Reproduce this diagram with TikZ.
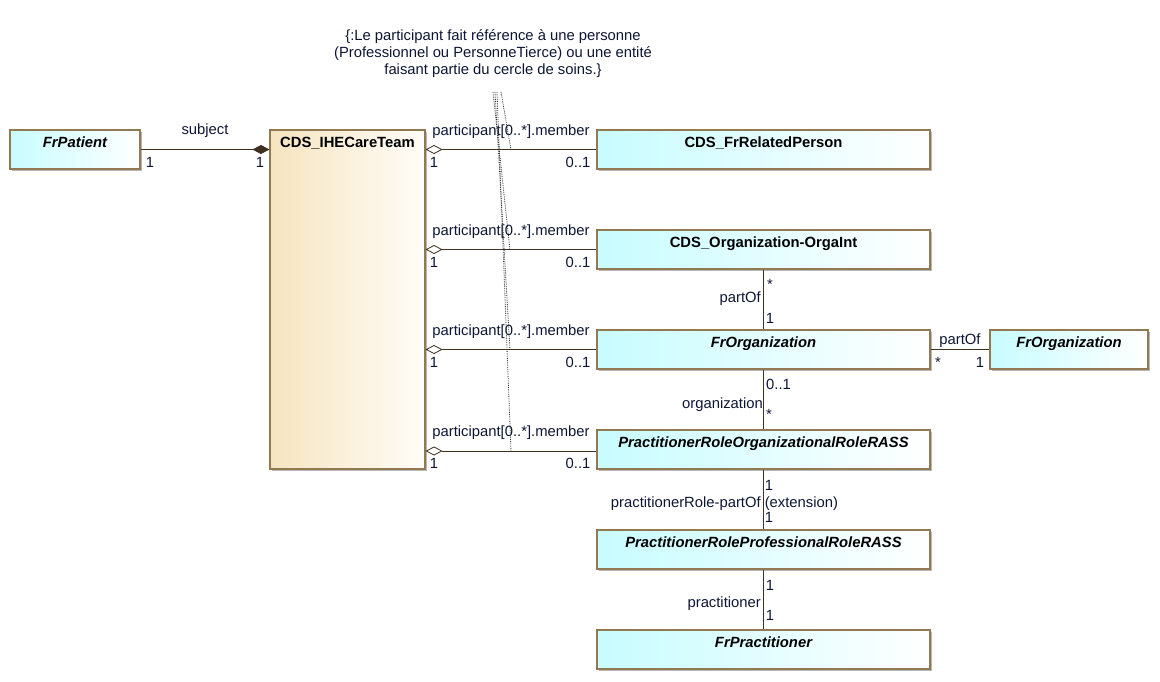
\documentclass[tikz,border=0pt]{standalone}
\usepackage{fontspec}
\setmainfont{Liberation Sans}
\usetikzlibrary{arrows.meta,shadows,calc}
\definecolor{txt}{RGB}{12,22,52}
\definecolor{ln}{RGB}{64,48,32}
\definecolor{bd}{RGB}{145,122,82}
\definecolor{cy}{RGB}{200,252,255}
\definecolor{wh}{RGB}{255,255,255}
\definecolor{tanA}{RGB}{246,228,192}
\definecolor{tanB}{RGB}{255,253,248}
\newcommand{\fsz}{\fontsize{14.8}{17}\selectfont}
\begin{document}
\begin{tikzpicture}[x=1pt,y=-1pt,
  font=\fsz, text=txt,
  boxbase/.style={draw=bd, line width=1.1pt, inner sep=0pt, minimum height=39pt,
    drop shadow={shadow xshift=2pt,shadow yshift=-2pt,fill=black!28,opacity=1}},
  cls/.style={boxbase, left color=cy, right color=wh, minimum width=#1},
  team/.style={boxbase, left color=tanA, right color=tanB, minimum width=155pt, minimum height=339pt},
  ttl/.style={anchor=north, yshift=-4.5pt, text height=10pt, text depth=3pt, text=black},
  bi/.style={ttl, font=\fsz\bfseries\itshape},
  bu/.style={ttl, font=\fsz\bfseries},
  conn/.style={draw=ln, line width=0.9pt},
  lbl/.style={inner sep=0pt, text height=10pt, text depth=3pt, yshift=-1.5pt},
  odia/.style={conn, {Diamond[open,length=17pt,width=9pt,line width=0.8pt]}-},
  fdia/.style={conn, -{Diamond[length=17pt,width=9pt]}},
  note/.style={densely dotted, line width=0.8pt, draw=black!80}]
\useasboundingbox (0,0) rectangle (1160,681);

% classes
\node[cls=130pt, label={[bi]north:FrPatient}] (pat) at (75,149.5) {};
\node[team, label={[bu]north:CDS\_IHECareTeam}] (ct) at (347.5,299.5) {};
\node[cls=333pt, label={[bu]north:CDS\_FrRelatedPerson}] (rp) at (763.5,149.5) {};
\node[cls=333pt, label={[bu]north:CDS\_Organization-OrgaInt}] (co) at (763.5,249.5) {};
\node[cls=333pt, label={[bi]north:FrOrganization}] (fo) at (763.5,349.5) {};
\node[cls=158pt, label={[bi]north:FrOrganization}] (fo2) at (1069,349.5) {};
\node[cls=333pt, label={[bi]north:PractitionerRoleOrganizationalRoleRASS}] (pro) at (763.5,449.5) {};
\node[cls=333pt, label={[bi]north:PractitionerRoleProfessionalRoleRASS}] (prp) at (763.5,549.5) {};
\node[cls=333pt, label={[bi]north:FrPractitioner}] (fp) at (763.5,649.5) {};

% subject
\draw[fdia] (pat.east) -- (pat.east -| ct.west);
\node[lbl] (ls) at (205,129) {subject};
\node[lbl] (ls1) at (150,162) {1};
\node[lbl] (ls2) at (260,162) {1};

% participants
\draw[odia] (ct.east |- rp.west) coordinate (a1) -- (rp.west);
\draw[odia] (ct.east |- co.west) coordinate (a2) -- (co.west);
\draw[odia] (ct.east |- fo.west) coordinate (a3) -- (fo.west);
\draw[odia] ($(ct.east |- pro.west)+(0,1.5)$) coordinate (a4) -- ($(pro.west)+(0,1.5)$);
\foreach \i/\y in {1/150,2/250,3/350,4/451}{
  \node[lbl] (pl\i) at (511,\y-20) {participant[0..*].member};
  \node[lbl] (pa\i) at (434,\y+12) {1};
  \node[lbl] (pb\i) at (578,\y+12) {0..1};
}

% note
\node[align=center, inner sep=0pt] (nt) at (493,53.5) {\{:Le participant fait référence à une personne\\(Professionnel ou PersonneTierce) ou une entité\\faisant partie du cercle de soins.\}};
\coordinate (n1) at (493,92);
\coordinate (n2) at (495,92);
\coordinate (n3) at (497,92);
\coordinate (n4) at (501,92);
\coordinate (m1) at (511,150);
\coordinate (m2) at (510,250);
\coordinate (m3) at (510,350);
\coordinate (m4) at (511,451);
\draw[note] (n4) -- (m1);
\draw[note] (n1) -- (m2);
\draw[note] (n2) -- (m3);
\draw[note] (n3) -- (m4);

% organisation chain
\draw[conn] (co.south) -- (fo.north);
\node[lbl] (c1) at (770,284) {*};
\node[lbl, anchor=east] (c2) at (761,297) {partOf};
\node[lbl] (c3) at (770,318) {1};

\draw[conn] (fo.east) -- (fo2.west);
\node[lbl] (d1) at (960,339) {partOf};
\node[lbl] (d2) at (938,362) {*};
\node[lbl] (d3) at (980,362) {1};

\draw[conn] (fo.south) -- (pro.north);
\node[lbl, anchor=west] (e1) at (766,384) {0..1};
\node[lbl, anchor=east] (e2) at (763,403) {organization};
\node[lbl] (e3) at (769,414) {*};

\draw[conn] (pro.south) -- (prp.north);
\node[lbl] (f1) at (769,485) {1};
\node[lbl] (f2) at (724.5,502) {practitionerRole-partOf (extension)};
\node[lbl] (f3) at (769,517) {1};

\draw[conn] (prp.south) -- (fp.north);
\node[lbl] (g1) at (770,585) {1};
\node[lbl, anchor=east] (g2) at (761,602) {practitioner};
\node[lbl] (g3) at (770,615) {1};
\end{tikzpicture}
\end{document}
